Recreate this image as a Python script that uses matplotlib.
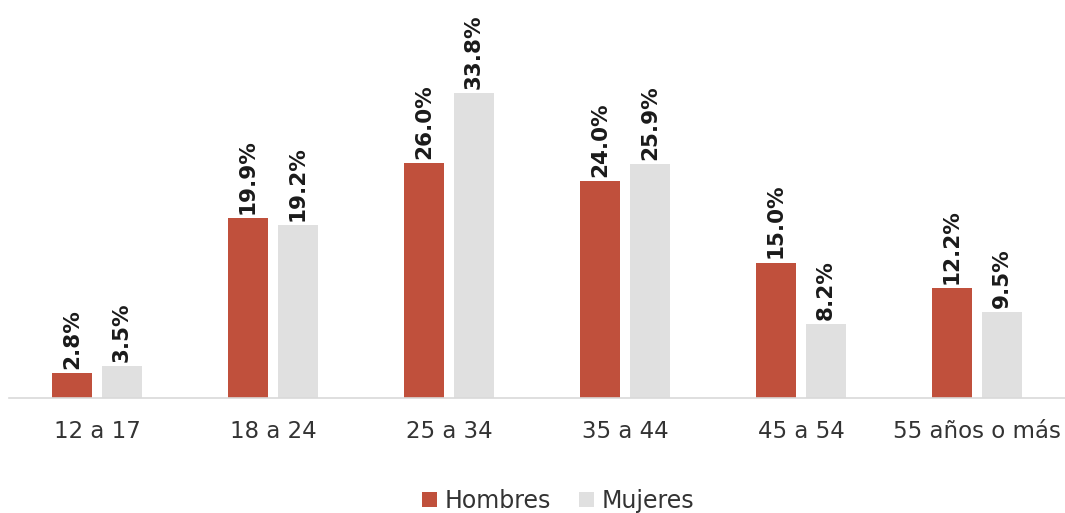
import matplotlib
matplotlib.use('Agg')
import matplotlib.pyplot as plt
import numpy as np

plt.rcParams['font.family'] = ['DejaVu Sans']

categorias = ['12 a 17', '18 a 24', '25 a 34', '35 a 44', '45 a 54', '55 años o más']
hombres = [2.8, 19.9, 26.0, 24.0, 15.0, 12.2]
mujeres = [3.5, 19.2, 33.8, 25.9, 8.2, 9.5]

rojo = '#C0503C'
gris = '#E0E0E0'

fig = plt.figure(figsize=(10.65, 5.13), dpi=100)
ax = fig.add_axes([0.0085, 0.2242, 0.9915, 0.7037])

x = np.arange(len(categorias))
w = 0.227
off = 0.142
b1 = ax.bar(x - off, hombres, w, color=rojo, label='Hombres')
b2 = ax.bar(x + off, mujeres, w, color=gris, label='Mujeres')

# etiquetas de valor, verticales
for barras, vals in ((b1, hombres), (b2, mujeres)):
    for b, v in zip(barras, vals):
        ax.annotate(f'{v:.1f}%', (b.get_x() + b.get_width() / 2, v),
                    xytext=(0, 3), textcoords='offset points',
                    rotation=90, ha='center', va='bottom',
                    fontsize=15.5, fontweight='bold', color='#1a1a1a')

ax.set_xlim(-0.5, 5.5)
ax.set_ylim(0, 40)
ax.set_xticks(x)
ax.set_xticklabels(categorias, fontsize=16.5, color='#333333')
ax.tick_params(axis='x', length=0, pad=16)
ax.set_yticks([])
for s in ['top', 'right', 'left']:
    ax.spines[s].set_visible(False)
ax.spines['bottom'].set_color('#D9D9D9')
ax.spines['bottom'].set_linewidth(1.2)

fig.legend(loc='lower center', bbox_to_anchor=(0.524, -0.041), ncol=2,
           frameon=False, fontsize=17, handlelength=0.65, handleheight=0.65,
           handletextpad=0.3, columnspacing=1.2, labelcolor='#333333')

fig.savefig('out.png', dpi=100)
